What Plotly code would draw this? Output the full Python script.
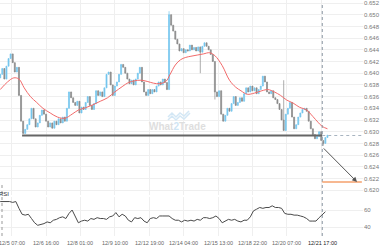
import plotly.graph_objects as go

# ---------------- data ----------------
# 2-hour candles, trading-hour index (0 = 12/5 07:00, weekends removed)
first_open = 0.6392
closes = [
    0.6398, 0.6408, 0.6390, 0.6412, 0.6425, 0.6433, 0.6418, 0.6402, 0.6410, 0.6362,
    0.6318, 0.6297, 0.6304, 0.6312, 0.6322, 0.6340, 0.6322, 0.6308, 0.6315, 0.6328,
    0.6337, 0.6330, 0.6318, 0.6308, 0.6315, 0.6306, 0.6318, 0.6312, 0.6322, 0.6315,
    0.6325, 0.6318, 0.6340, 0.6368, 0.6358, 0.6350, 0.6345, 0.6352, 0.6332, 0.6342,
    0.6338, 0.6350, 0.6360, 0.6345, 0.6338, 0.6348, 0.6370, 0.6362, 0.6368, 0.6360,
    0.6375, 0.6398, 0.6402, 0.6380, 0.6362, 0.6378, 0.6385, 0.6398, 0.6415, 0.6410,
    0.6400, 0.6390, 0.6382, 0.6388, 0.6380, 0.6390, 0.6400, 0.6410, 0.6385, 0.6368,
    0.6362, 0.6372, 0.6365, 0.6372, 0.6368, 0.6378, 0.6385, 0.6380, 0.6390, 0.6384,
    0.6372, 0.6500, 0.6482, 0.6472, 0.6458, 0.6450, 0.6438, 0.6442, 0.6435, 0.6440,
    0.6438, 0.6448, 0.6440, 0.6444, 0.6438, 0.6445, 0.6436, 0.6446, 0.6452, 0.6446,
    0.6440, 0.6432, 0.6420, 0.6368, 0.6360, 0.6370, 0.6330, 0.6318, 0.6328, 0.6340,
    0.6335, 0.6348, 0.6360, 0.6345, 0.6350, 0.6358, 0.6352, 0.6365, 0.6375, 0.6368,
    0.6378, 0.6370, 0.6375, 0.6365, 0.6372, 0.6378, 0.6395, 0.6385, 0.6368, 0.6365,
    0.6370, 0.6358, 0.6355, 0.6348, 0.6338, 0.6320, 0.6302, 0.6330, 0.6340, 0.6350,
    0.6325, 0.6305, 0.6312, 0.6325, 0.6332, 0.6338, 0.6340, 0.6335, 0.6318, 0.6305,
    0.6295, 0.6288, 0.6292, 0.6300, 0.6285, 0.6280, 0.6290, 0.6294,
]
candle_start = -11
candle_step = 2
wick_high = {151: 0.6506, 261: 0.6388}
wick_low = {181: 0.6400, 195: 0.6355, 299: 0.6276}

sma_idx = [-11, -4, 2, 7, 12, 18, 24, 30, 37, 44, 51, 58, 64, 71, 78, 85, 92, 99,
           106, 112, 118, 124, 130, 136, 142, 148, 152, 157, 162, 167, 172, 178,
           184, 190, 195, 202, 209, 215, 220, 226, 233, 240, 246, 252, 258, 264,
           270, 276, 283, 289, 294, 298, 303]
sma_val = [0.6372, 0.6385, 0.6392, 0.6390, 0.6375, 0.6360, 0.6350, 0.6340, 0.6332,
           0.6325, 0.6323, 0.6330, 0.6337, 0.6341, 0.6346, 0.6352, 0.6358, 0.6368,
           0.6377, 0.6384, 0.6387, 0.6388, 0.6386, 0.6383, 0.6382, 0.6386, 0.6398,
           0.6414, 0.6423, 0.6427, 0.6429, 0.6431, 0.6433, 0.6435, 0.6430, 0.6413,
           0.6388, 0.6376, 0.6370, 0.6364, 0.6366, 0.6370, 0.6372, 0.6368, 0.6362,
           0.6354, 0.6349, 0.6342, 0.6337, 0.6326, 0.6316, 0.6309, 0.6305]

rsi_start = -11
rsi_step = 3
rsi_val = [70, 70, 70, 70, 69, 70, 62, 55, 54, 55, 50, 45, 42, 43, 44, 46, 45, 48, 49, 51,
           52, 50, 56, 60, 52, 45, 47, 48, 47, 50, 49, 51, 50, 50, 49, 52, 53, 57, 52, 55,
           53, 48, 46, 51, 50, 51, 47, 45, 50, 51, 50, 53, 53, 53, 53, 50, 48, 48, 46, 48,
           47, 48, 47, 49, 48, 51, 51, 50, 51, 53, 50, 45, 47, 49, 48, 49, 47, 46, 48, 48,
           52, 59, 61, 63, 62, 63, 63, 65, 63, 63, 62, 56, 55, 55, 54, 54, 53, 52, 50, 47,
           47, 47, 51, 55, 58]

tick_idx = [0, 33, 66, 99, 132, 165, 198, 231, 264, 297]
tick_text = ["12/5 07:00", "12/6 16:00", "12/8 01:00", "12/9 10:00", "12/12 19:00",
             "12/14 04:00", "12/15 13:00", "12/18 22:00", "12/20 07:00", ""]
price_ticks = [0.620, 0.622, 0.624, 0.626, 0.628, 0.630, 0.632, 0.634, 0.636, 0.638,
               0.640, 0.642, 0.644, 0.646, 0.648, 0.650, 0.652]
rsi_ticks = [40, 60]

support_level = 0.62935
support_from = 10
cursor_idx = 298
cursor_label = "12/21 17:00"
arrow_start_price = 0.6274
target_idx = 331.4
target_price = 0.6214

# ---------------- build ----------------
cidx = [candle_start + candle_step * i for i in range(len(closes))]
opens = [first_open] + closes[:-1]
highs, lows = [], []
for i, o, c in zip(cidx, opens, closes):
    highs.append(max(o, c, wick_high.get(i, 0)))
    lows.append(min(o, c, wick_low.get(i, 1)))
ridx = [rsi_start + rsi_step * i for i in range(len(rsi_val))]

X_RANGE = [-11.2, 337.1]
PW, PH = 363.0, 236.0  # plot area in px

fig = go.Figure()
fig.add_trace(go.Candlestick(
    x=cidx, open=opens, high=highs, low=lows, close=closes,
    increasing=dict(line=dict(color="#74c6ee", width=0.7), fillcolor="#74c6ee"),
    decreasing=dict(line=dict(color="#8a8a8a", width=0.7), fillcolor="#8a8a8a"),
    whiskerwidth=0, xaxis="x", yaxis="y", hoverinfo="skip"))
fig.add_trace(go.Scatter(x=sma_idx, y=sma_val, mode="lines",
                         line=dict(color="#f26a6a", width=1, shape="spline"),
                         xaxis="x", yaxis="y", hoverinfo="skip"))
fig.add_trace(go.Scatter(x=ridx, y=rsi_val, mode="lines",
                         line=dict(color="#4a4a4a", width=1),
                         xaxis="x", yaxis="y2", hoverinfo="skip"))

grid = "#efefef"
fig.update_layout(
    width=380, height=250,
    margin=dict(l=0, r=17, t=0, b=14),
    paper_bgcolor="white", plot_bgcolor="white",
    showlegend=False,
    font=dict(family="Liberation Sans, Arial, sans-serif", size=6, color="#777"),
    xaxis=dict(range=X_RANGE, tickmode="array", tickvals=tick_idx,
               showticklabels=False,
               showgrid=True, gridcolor=grid, gridwidth=1, zeroline=False,
               ticks="", anchor="y2",
               rangeslider=dict(visible=False), showline=False, fixedrange=True),
    yaxis=dict(domain=[0.1737, 1], range=[0.619179, 0.652513], side="right",
               tickmode="array", tickvals=price_ticks, tickformat=".3f",
               showgrid=True, gridcolor=grid, zeroline=False, ticks="",
               tickfont=dict(size=6, color="#777"), anchor="x"),
    yaxis2=dict(domain=[0, 0.165], range=[29.4, 75.3], side="right",
                tickmode="array", tickvals=rsi_ticks,
                showgrid=True, gridcolor=grid, zeroline=False, ticks="",
                tickfont=dict(size=6, color="#777"), anchor="x"),
)

# x tick labels (as annotations so the clipped first label still shows)
for ti, tt in zip(tick_idx, tick_text):
    if tt:
        fig.add_annotation(x=ti, y=0, xref="x", yref="paper", yanchor="top",
                           yshift=-2, text=tt, showarrow=False,
                           font=dict(size=5.5, color="#666"))

# support line and its dotted extension
fig.add_shape(type="line", xref="x", yref="y", x0=support_from, x1=cursor_idx,
              y0=support_level, y1=support_level, line=dict(color="#666", width=2))
fig.add_shape(type="line", xref="x", yref="y", x0=cursor_idx, x1=X_RANGE[1],
              y0=support_level, y1=support_level,
              line=dict(color="#a8b4c0", width=1, dash="dot"))
# cursor vertical line
fig.add_shape(type="line", xref="x", yref="paper", x0=cursor_idx, x1=cursor_idx,
              y0=0, y1=0.99, line=dict(color="#8a96a3", width=1, dash="dot"))
# target line
fig.add_shape(type="line", xref="x", yref="y", x0=cursor_idx, x1=336,
              y0=target_price, y1=target_price, line=dict(color="#f5a06c", width=1.5))
# left dotted line of RSI panel
fig.add_shape(type="line", xref="paper", yref="paper", x0=2 / PW, x1=2 / PW,
              y0=0, y1=1 - 182 / PH, line=dict(color="#999", width=1, dash="dot"))

# arrow
fig.add_annotation(x=target_idx, y=target_price, ax=cursor_idx, ay=arrow_start_price,
                   xref="x", yref="y", axref="x", ayref="y", text="",
                   showarrow=True, arrowhead=2, arrowsize=1, arrowwidth=1,
                   arrowcolor="#555")
# cursor label
fig.add_annotation(x=cursor_idx, y=0, xref="x", yref="paper", yanchor="top",
                   yshift=-2, text=cursor_label, showarrow=False,
                   font=dict(size=5.5, color="#222"))
# RSI label
fig.add_annotation(x=0, y=1 - 199 / PH, xref="paper", yref="paper", xanchor="left",
                   xshift=-3, text="RSI", showarrow=False,
                   font=dict(size=6, color="#333"))
# watermark
fig.add_annotation(x=177.5 / PW, y=1 - 126 / PH, xref="paper", yref="paper",
                   text="<b>What<span style='color:#cfe5f4'>2</span>Trade</b>",
                   showarrow=False, font=dict(size=10, color="#dedede"))
def px(x, y):
    return f"{x / PW:.4f},{1 - y / PH:.4f}"
logo1 = "M " + " L ".join(px(*p) for p in [(168, 117), (172, 113), (176, 117), (180, 113), (184, 116), (189, 111)])
logo2 = "M " + " L ".join(px(*p) for p in [(168, 120), (172, 116), (176, 120), (180, 116), (184, 119), (190, 113)])
fig.add_shape(type="path", xref="paper", yref="paper", path=logo1,
              line=dict(color="#d3e7f5", width=1.5))
fig.add_shape(type="path", xref="paper", yref="paper", path=logo2,
              line=dict(color="#d3e7f5", width=1.5))

fig.write_html("out.html")
